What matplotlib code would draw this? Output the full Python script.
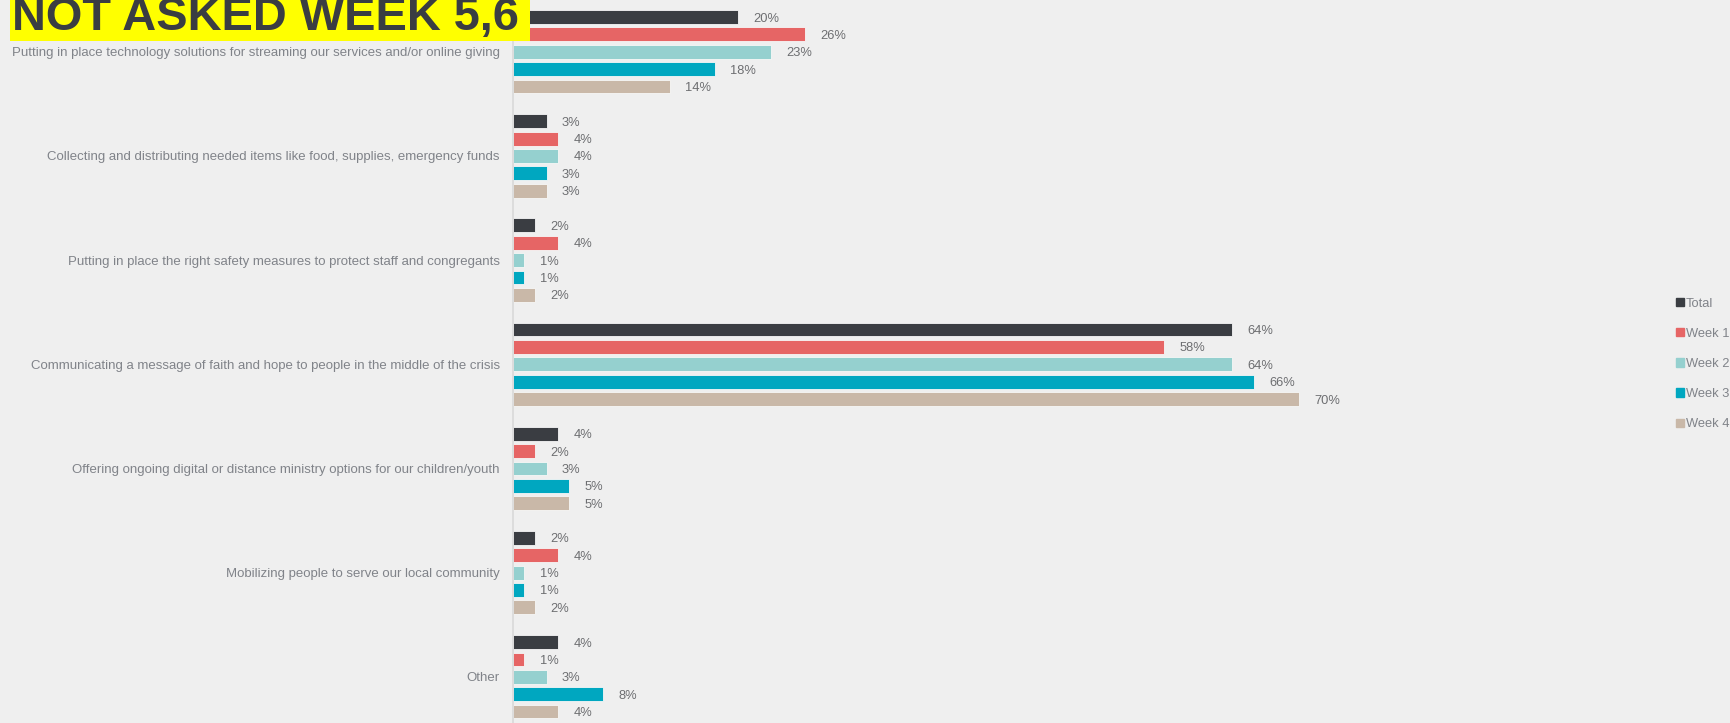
import matplotlib
matplotlib.use("Agg")
import matplotlib.pyplot as plt
import matplotlib.patches as mpatches
import numpy as np

plt.rcParams['font.family'] = ['Liberation Sans', 'DejaVu Sans']

# chart data
categories = [
    "Putting in place technology solutions for streaming our services and/or online giving",
    "Collecting and distributing needed items like food, supplies, emergency funds",
    "Putting in place the right safety measures to protect staff and congregants",
    "Communicating a message of faith and hope to people in the middle of the crisis",
    "Offering ongoing digital or distance ministry options for our children/youth",
    "Mobilizing people to serve our local community",
    "Other",
]
series_names = ["Total", "Week 1", "Week 2", "Week 3", "Week 4"]
total = [20, 3, 2, 64, 4, 2, 4]
week1 = [26, 4, 4, 58, 2, 4, 1]
week2 = [23, 4, 1, 64, 3, 1, 3]
week3 = [18, 3, 1, 66, 5, 1, 8]
week4 = [14, 3, 2, 70, 5, 2, 4]
series_values = [total, week1, week2, week3, week4]
colors = ['#3a3d42', '#e66565', '#95d0cf', '#00a7c0', '#c9b8a8']
title = "NOT ASKED WEEK 5,6"

W, H = 1730, 723
bg = '#efefef'
fig = plt.figure(figsize=(W / 100, H / 100), dpi=100, facecolor=bg)

x0 = 513
px_per_pct = 11.23
right = 1400
ax = fig.add_axes([x0 / W, 0, (right - x0) / W, 1])
ax.set_facecolor(bg)

n_series = len(series_values)
slot = n_series + 1
group_pos = np.arange(len(categories)) * slot

handles = []
for i, (name, vals, c) in enumerate(zip(series_names, series_values, colors)):
    bars = ax.barh(group_pos + i, vals, height=0.8, color=c,
                   edgecolor='#f7f7f7', linewidth=0.6, label=name)
    labels = ax.bar_label(bars, labels=[f"{v}%" for v in vals], padding=11,
                          fontsize=9.3, color='#6d6e71')
    for t in labels:
        t.set_verticalalignment('center_baseline')
    handles.append(mpatches.Patch(color=c, label=name))

ax.set_xlim(0, (right - x0) / px_per_pct)
ax.set_ylim(40.66, -0.98)
ax.set_yticks(group_pos + (n_series - 1) / 2)
ax.set_yticklabels(categories, fontsize=9.5, color='#808389')
ax.tick_params(axis='y', length=0, pad=9.4)
ax.set_xticks([])
for s in ['top', 'right', 'bottom']:
    ax.spines[s].set_visible(False)
ax.spines['left'].set_color('#d9d9d9')
ax.spines['left'].set_linewidth(1.2)

fig.legend(handles=handles, loc='center left',
           bbox_to_anchor=(1676 / W, 1 - 364 / H), frameon=False,
           fontsize=9.3, labelcolor='#808389', handlelength=0.6,
           handleheight=0.6, handletextpad=0.15, labelspacing=1.4,
           borderpad=0, borderaxespad=0)

# yellow note box over the top-left corner (the reference crops its top)
fig.patches.append(mpatches.Rectangle((10 / W, 1 - 41 / H), 520 / W, 45 / H,
                                      transform=fig.transFigure,
                                      facecolor='#ffff00', edgecolor='none',
                                      zorder=5))
fig.text(12 / W, 1 - 30 / H, title, fontsize=33.8, fontweight='bold',
         color='#3a3d42', va='baseline', ha='left', zorder=6)

fig.savefig('out.png', dpi=100, facecolor=bg)
